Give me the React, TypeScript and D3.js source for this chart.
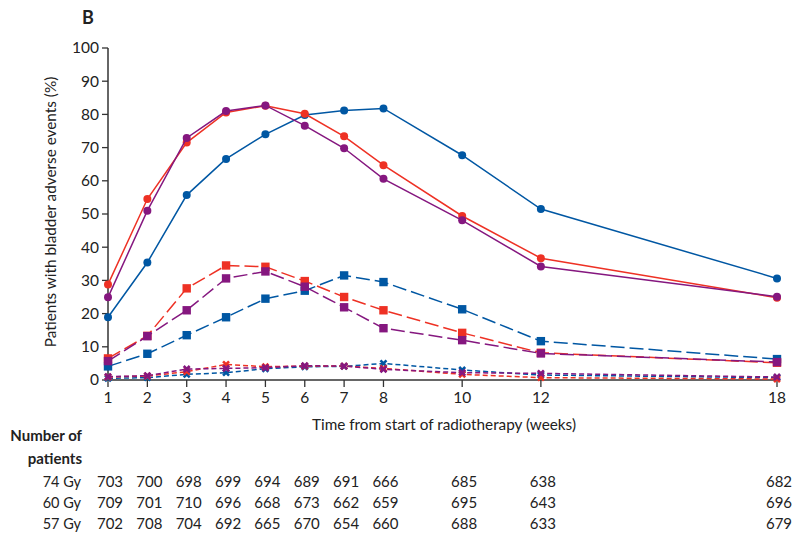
import React from "react";
import * as d3 from "d3";

const weeks = [1, 2, 3, 4, 5, 6, 7, 8, 10, 12, 18];
const yTicks = [0, 10, 20, 30, 40, 50, 60, 70, 80, 90, 100];

// Grade >=1 (solid, circles)
const g1_74 = [18.9, 35.4, 55.7, 66.6, 74.0, 79.8, 81.2, 81.8, 67.7, 51.5, 30.6];
const g1_60 = [28.8, 54.5, 71.5, 80.6, 82.6, 80.2, 73.4, 64.7, 49.4, 36.7, 24.8];
const g1_57 = [24.9, 51.0, 72.9, 81.0, 82.7, 76.6, 69.8, 60.6, 48.1, 34.2, 25.1];
// Grade >=2 (dashed, squares)
const g2_74 = [4.1, 7.9, 13.5, 18.9, 24.5, 26.9, 31.5, 29.5, 21.3, 11.7, 6.3];
const g2_60 = [6.5, 13.3, 27.6, 34.5, 34.1, 29.8, 25.0, 21.0, 14.2, 8.2, 5.2];
const g2_57 = [5.7, 13.2, 21.0, 30.6, 32.7, 28.1, 21.9, 15.6, 12.0, 8.0, 5.4];
// Grade >=3 (dotted, crosses)
const g3_74 = [0.5, 0.7, 1.7, 2.2, 3.4, 4.0, 4.1, 5.0, 3.0, 1.5, 0.7];
const g3_60 = [0.9, 1.2, 2.5, 4.7, 4.0, 4.2, 4.2, 3.5, 1.7, 0.7, 0.3];
const g3_57 = [1.0, 1.3, 3.3, 3.5, 3.7, 4.3, 4.2, 3.2, 2.2, 2.0, 0.9];

const doseLabels = ["74 Gy", "60 Gy", "57 Gy"];
const n74 = [703, 700, 698, 699, 694, 689, 691, 666, 685, 638, 682];
const n60 = [709, 701, 710, 696, 668, 673, 662, 659, 695, 643, 696];
const n57 = [702, 708, 704, 692, 665, 670, 654, 660, 688, 633, 679];

const BLUE = "#0057a3";
const RED = "#ee3124";
const PURPLE = "#85177f";
const AXIS = "#333333";
const FONT = "Lato, 'Open Sans', sans-serif";

export default function App() {
  const x = d3.scaleLinear().domain([1, 18]).range([108, 777]);
  const y = d3.scaleLinear().domain([0, 100]).range([380, 48]);
  const line = d3
    .line<number>()
    .x((_, i) => x(weeks[i]))
    .y((d) => y(d));

  const series = [
    { v: g3_74, c: BLUE, m: "x", dash: "5,3" },
    { v: g3_60, c: RED, m: "x", dash: "5,3" },
    { v: g3_57, c: PURPLE, m: "x", dash: "5,3" },
    { v: g2_74, c: BLUE, m: "s", dash: "14,5" },
    { v: g2_60, c: RED, m: "s", dash: "14,5" },
    { v: g2_57, c: PURPLE, m: "s", dash: "14,5" },
    { v: g1_74, c: BLUE, m: "c", dash: "none" },
    { v: g1_60, c: RED, m: "c", dash: "none" },
    { v: g1_57, c: PURPLE, m: "c", dash: "none" },
  ];

  const counts = [n74, n60, n57];
  const rowY = [487, 508, 529];

  return (
    <svg
      width={799}
      height={541}
      style={{ position: "fixed", left: 0, top: 0, background: "#fff" }}
      fontFamily={FONT}
    >
      <rect x={0} y={0} width={799} height={541} fill="#fff" />
      <text x={82} y={24} fontSize={18} fontWeight={700} fill="#222">
        B
      </text>

      {/* Y axis */}
      <line x1={x(1)} x2={x(1)} y1={y(100)} y2={y(0)} stroke={AXIS} strokeWidth={1.5} />
      {yTicks.map((t) => (
        <g key={t}>
          <line x1={x(1) - 6} x2={x(1)} y1={y(t)} y2={y(t)} stroke={AXIS} strokeWidth={1.3} />
          <text
            x={x(1) - 9}
            y={y(t)}
            dy="0.35em"
            textAnchor="end"
            fontSize={15.5}
            fill="#222"
          >
            {t}
          </text>
        </g>
      ))}
      <text
        transform={`translate(56, ${(y(0) + y(100)) / 2 - 2}) rotate(-90)`}
        textAnchor="middle"
        fontSize={15.3}
        fill="#222"
      >
        Patients with bladder adverse events (%)
      </text>

      {/* X axis */}
      <line x1={x(1)} x2={x(18)} y1={y(0)} y2={y(0)} stroke={AXIS} strokeWidth={1.5} />
      {weeks.map((w) => (
        <g key={w}>
          <line x1={x(w)} x2={x(w)} y1={y(0)} y2={y(0) + 7} stroke={AXIS} strokeWidth={1.3} />
          <text x={x(w)} y={y(0) + 23} textAnchor="middle" fontSize={15.5} fill="#222">
            {w}
          </text>
        </g>
      ))}
      <text x={444} y={430} textAnchor="middle" fontSize={15.3} fill="#222">
        Time from start of radiotherapy (weeks)
      </text>

      {/* Series */}
      {series.map((s, si) => (
        <g key={si}>
          <path
            d={line(s.v) || ""}
            fill="none"
            stroke={s.c}
            strokeWidth={1.5}
            strokeDasharray={s.dash}
          />
          {s.v.map((v, i) => {
            const cx = x(weeks[i]);
            const cy = y(v);
            if (s.m === "c") return <circle key={i} cx={cx} cy={cy} r={4} fill={s.c} />;
            if (s.m === "s")
              return <rect key={i} x={cx - 4.2} y={cy - 4.2} width={8.4} height={8.4} fill={s.c} />;
            return (
              <path
                key={i}
                d={`M${cx - 3},${cy - 3}L${cx + 3},${cy + 3}M${cx - 3},${cy + 3}L${cx + 3},${cy - 3}`}
                stroke={s.c}
                strokeWidth={2.6}
              />
            );
          })}
        </g>
      ))}

      {/* Number at risk table */}
      <text x={82} y={441} textAnchor="end" fontSize={15} fontWeight={700} fill="#222">
        Number of
      </text>
      <text x={82} y={464} textAnchor="end" fontSize={15} fontWeight={700} fill="#222">
        patients
      </text>
      {counts.map((row, ri) => (
        <g key={ri}>
          <text x={81} y={rowY[ri]} textAnchor="end" fontSize={14.5} fill="#222">
            {doseLabels[ri]}
          </text>
          {row.map((n, i) => (
            <text key={i} x={x(weeks[i]) + 2} y={rowY[ri]} textAnchor="middle" fontSize={15} fill="#222">
              {n}
            </text>
          ))}
        </g>
      ))}
    </svg>
  );
}
